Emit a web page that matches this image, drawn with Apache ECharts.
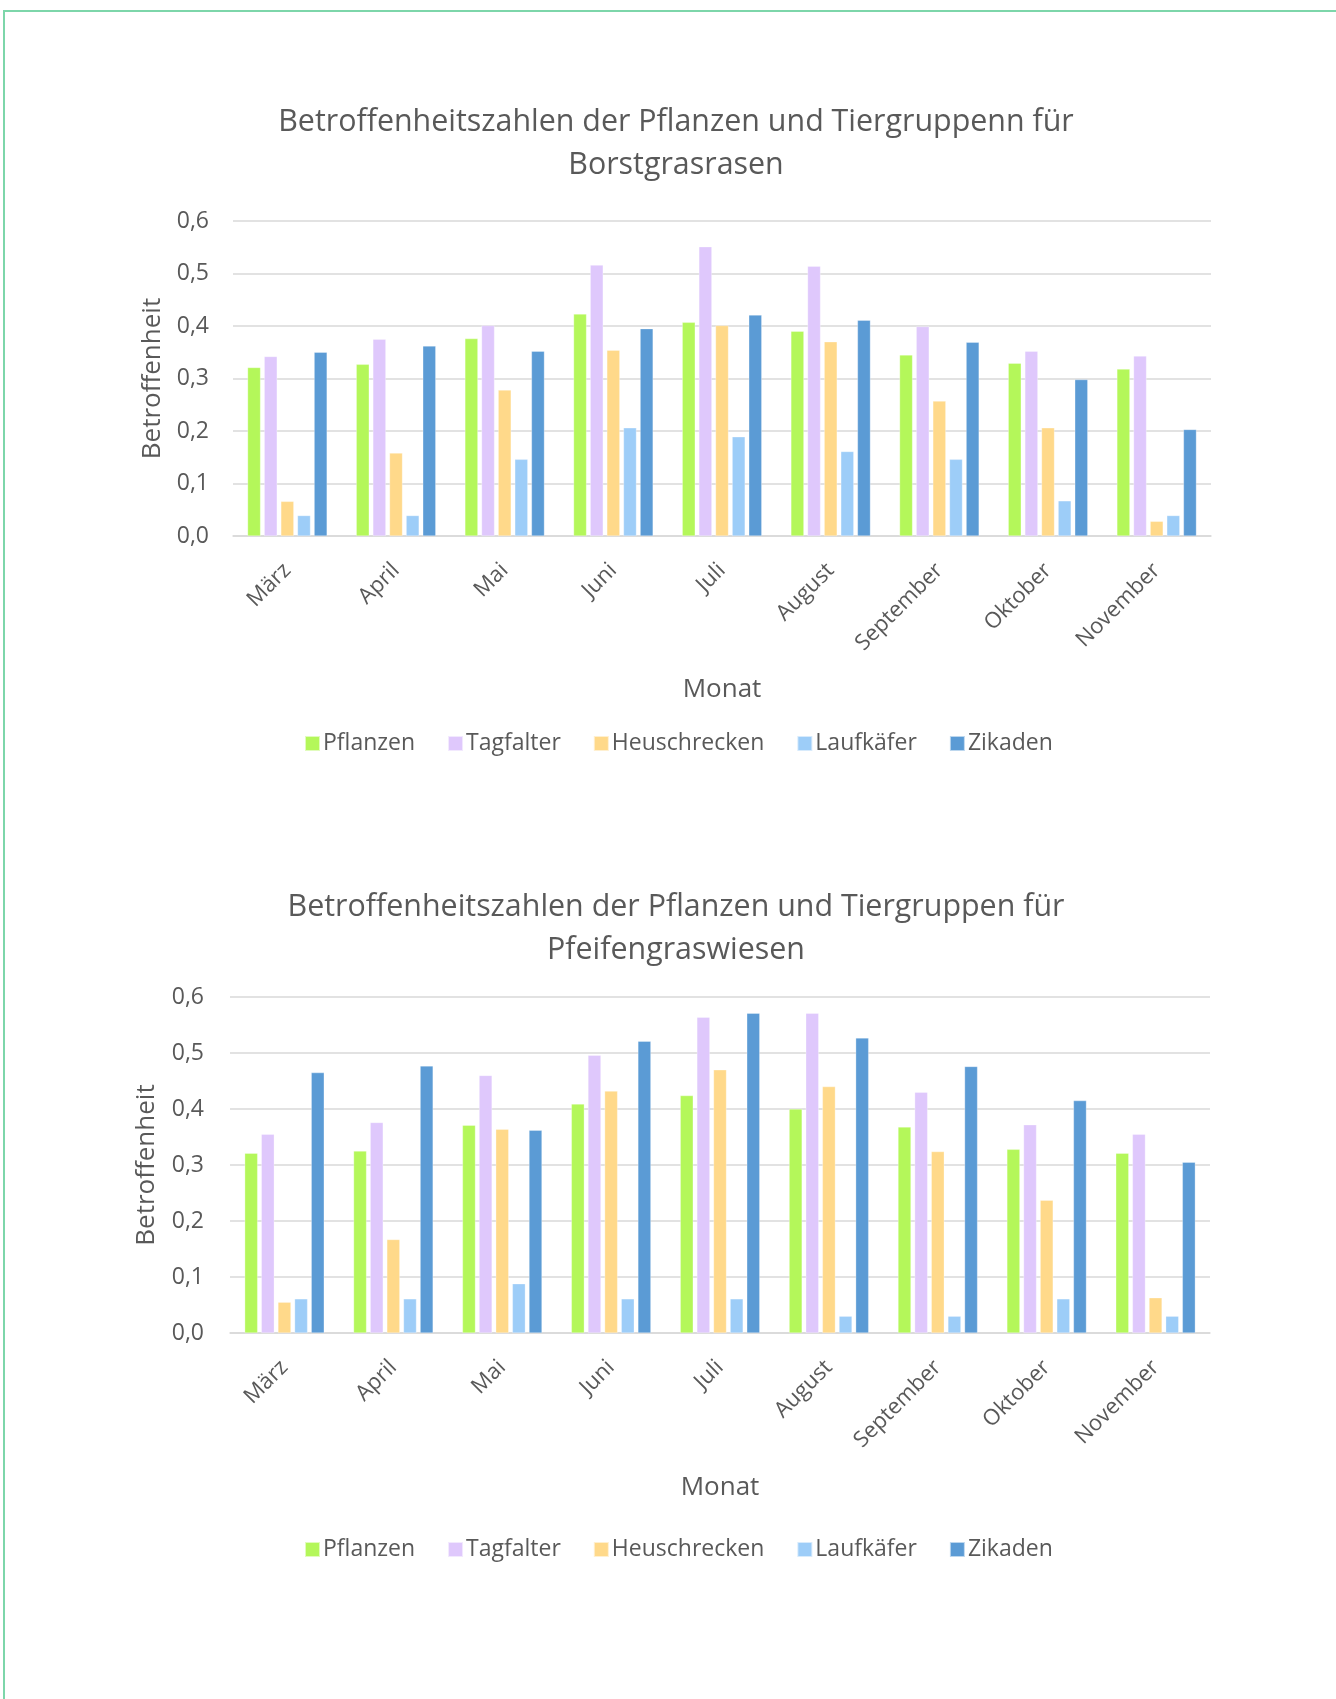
<!DOCTYPE html>
<html>
<head>
<meta charset="utf-8">
<script src="https://cdn.jsdelivr.net/npm/echarts@6/dist/echarts.min.js"></script>
<style>
html,body{margin:0;padding:0;background:#fff;overflow:hidden;}
#frame{position:absolute;left:3px;top:10px;width:3000px;height:3000px;border-top:2px solid #7dd6aa;border-left:2px solid #7dd6aa;box-sizing:border-box;}
#chart{position:absolute;left:0;top:0;width:1336px;height:1699px;}
</style>
</head>
<body>
<div id="frame"></div>
<div id="chart"></div>
<script>
const months = ['März','April','Mai','Juni','Juli','August','September','Oktober','November'];
const groups = ['Pflanzen','Tagfalter','Heuschrecken','Laufkäfer','Zikaden'];
const yTicks = [0, 0.1, 0.2, 0.3, 0.4, 0.5, 0.6];

const title1 = 'Betroffenheitszahlen der Pflanzen und Tiergruppenn für\nBorstgrasrasen';
const title2 = 'Betroffenheitszahlen der Pflanzen und Tiergruppen für\nPfeifengraswiesen';
const xName = 'Monat';
const yName = 'Betroffenheit';

// Borstgrasrasen
const borstPflanzen     = [0.321, 0.327, 0.376, 0.423, 0.407, 0.390, 0.345, 0.329, 0.318];
const borstTagfalter    = [0.342, 0.375, 0.401, 0.516, 0.551, 0.514, 0.399, 0.352, 0.343];
const borstHeuschrecken = [0.066, 0.158, 0.278, 0.354, 0.401, 0.370, 0.257, 0.206, 0.028];
const borstLaufkaefer   = [0.039, 0.039, 0.146, 0.206, 0.189, 0.161, 0.146, 0.067, 0.039];
const borstZikaden      = [0.350, 0.362, 0.352, 0.395, 0.421, 0.411, 0.369, 0.298, 0.203];

// Pfeifengraswiesen
const pfeifPflanzen     = [0.321, 0.325, 0.371, 0.409, 0.424, 0.400, 0.368, 0.328, 0.321];
const pfeifTagfalter    = [0.355, 0.376, 0.460, 0.496, 0.564, 0.571, 0.430, 0.372, 0.355];
const pfeifHeuschrecken = [0.055, 0.167, 0.364, 0.432, 0.470, 0.440, 0.324, 0.237, 0.063];
const pfeifLaufkaefer   = [0.061, 0.061, 0.088, 0.061, 0.061, 0.030, 0.030, 0.061, 0.030];
const pfeifZikaden      = [0.465, 0.477, 0.362, 0.521, 0.571, 0.527, 0.476, 0.415, 0.305];

const colors = ['#b4f75a', '#dfc8fc', '#ffd98a', '#9dcdf8', '#5b9bd5'];
const FONT = 'Open Sans';
const TXT = '#595959';

const borstData = [borstPflanzen, borstTagfalter, borstHeuschrecken, borstLaufkaefer, borstZikaden];
const pfeifData = [pfeifPflanzen, pfeifTagfalter, pfeifHeuschrecken, pfeifLaufkaefer, pfeifZikaden];

function xAxis(idx, gap) {
  return {
    type: 'category', gridIndex: idx, data: months,
    name: xName, nameLocation: 'middle', nameGap: gap,
    nameTextStyle: {fontFamily: FONT, fontSize: 26, color: TXT},
    axisLine: {show: true, lineStyle: {color: '#d9d9d9', width: 1.5}},
    axisTick: {show: false},
    axisLabel: {rotate: 45, margin: 31, fontFamily: FONT, fontSize: 22, color: TXT, interval: 0}
  };
}
function yAxis(idx, gap, margin) {
  return {
    type: 'value', gridIndex: idx, min: yTicks[0], max: yTicks[yTicks.length - 1], interval: 0.1,
    name: yName, nameLocation: 'middle', nameGap: gap, nameRotate: 90,
    nameTextStyle: {fontFamily: FONT, fontSize: 26, color: TXT},
    axisLine: {show: false}, axisTick: {show: false},
    splitLine: {lineStyle: {color: '#d9d9d9', width: 1.5}},
    axisLabel: {margin: margin, fontFamily: FONT, fontSize: 23, color: TXT,
      formatter: v => v.toFixed(1).replace('.', ',')}
  };
}

const series = [];
[borstData, pfeifData].forEach((set, gi) => {
  set.forEach((vals, si) => {
    series.push({
      type: 'bar', name: groups[si], xAxisIndex: gi, yAxisIndex: gi, data: vals,
      barWidth: 13, barGap: '28%',
      itemStyle: {color: colors[si], borderColor: 'rgba(255,255,255,0.6)', borderWidth: 0.5},
      emphasis: {disabled: true}
    });
  });
});

function legend(top) {
  return {
    data: groups, top: top, left: 299, itemWidth: 15, itemHeight: 15, itemGap: 32,
    icon: 'rect', selectedMode: false,
    textStyle: {fontFamily: FONT, fontSize: 23, color: TXT, padding: [0, 0, 0, -2]}
  };
}

const chart = echarts.init(document.getElementById('chart'), null, {renderer: 'canvas'});
chart.setOption({
  animation: false,
  color: colors,
  title: [
    {text: title1, left: 671, top: 96, textAlign: 'center',
     textStyle: {fontFamily: FONT, fontSize: 30.4, fontWeight: 'normal', color: TXT, lineHeight: 43}},
    {text: title2, left: 671, top: 881, textAlign: 'center',
     textStyle: {fontFamily: FONT, fontSize: 30.4, fontWeight: 'normal', color: TXT, lineHeight: 43}}
  ],
  legend: [legend(727), legend(1533)],
  grid: [
    {left: 233, top: 221, width: 978, height: 315, containLabel: false},
    {left: 230, top: 997, width: 980, height: 336, containLabel: false}
  ],
  xAxis: [xAxis(0, 141), xAxis(1, 142)],
  yAxis: [yAxis(0, 67, 24), yAxis(1, 70, 26)],
  series: series
});
</script>
</body>
</html>
